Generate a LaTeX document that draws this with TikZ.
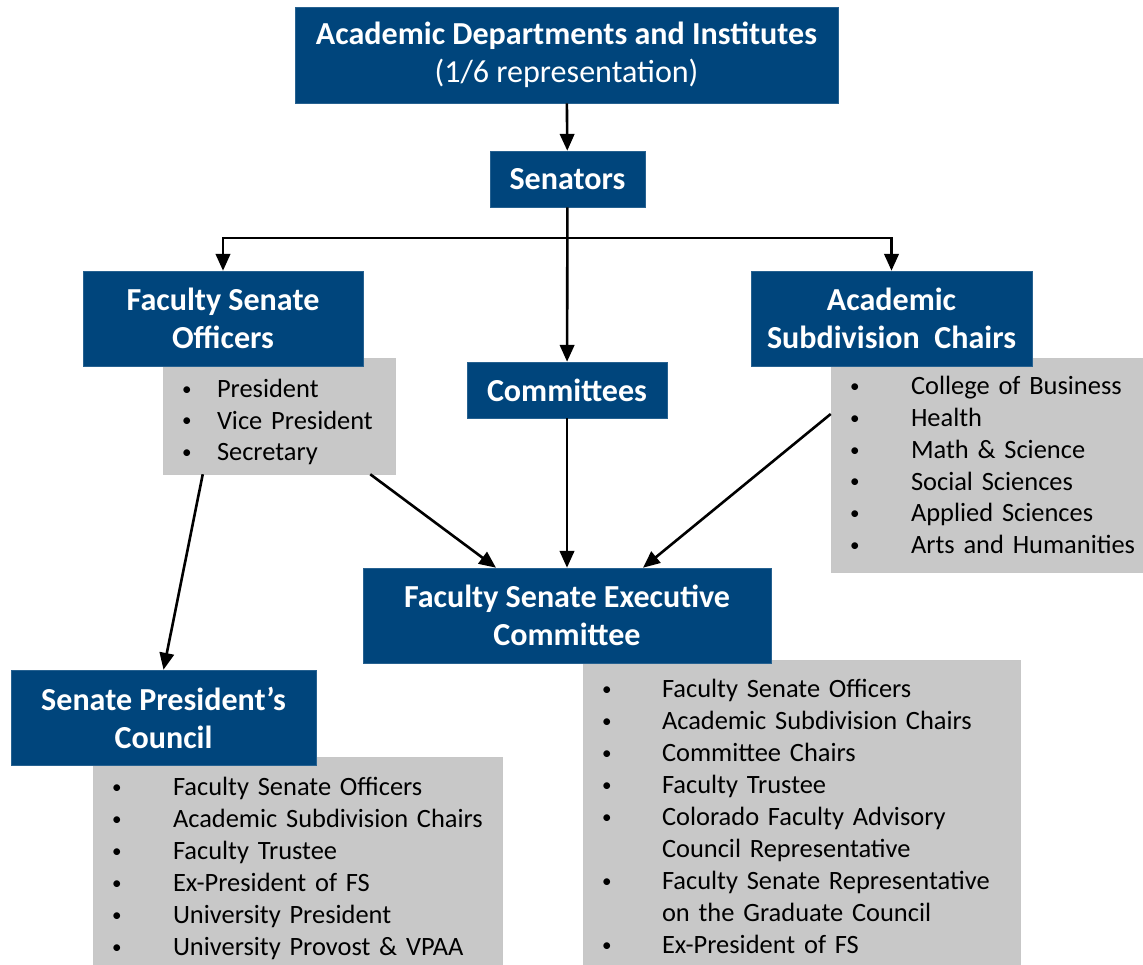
\documentclass[tikz,border=0pt]{standalone}
\usepackage{fontspec}
\setmainfont{Carlito}
\usetikzlibrary{arrows.meta}
\definecolor{fsblue}{RGB}{0,69,124}
\definecolor{fsgray}{RGB}{200,200,200}
\newlength\pu
\setlength\pu{0.025cm}
\newcommand\bul[2]{\makebox[#1\pu][l]{\hspace{19\pu}\raisebox{0.08em}{\scalebox{0.72}{\textbullet}}}#2}
\tikzset{
    bluebox/.style={fill=fsblue, draw=fsblue!85!white, text=white, align=center, inner sep=0pt,
        font=\fontsize{22.8}{27}\selectfont\bfseries},
    listbox/.style={fill=fsgray, draw=black!22, align=left, inner sep=0pt,
        font=\fontsize{18.8}{22.7}\selectfont},
    arr/.style={-{Triangle[length=0.42cm,width=0.36cm]}, line width=0.065cm},
}

\begin{document}
\begin{tikzpicture}[x=1\pu, y=-1\pu]
\useasboundingbox (0,0) rectangle (1143,965);

% grey lists (behind the blue boxes)
\node[listbox, text width=232\pu, minimum height=116\pu] (fsol) at (279,416)
    {\rule{0pt}{1.15em}\bul{54}{President}\\ \bul{54}{Vice President}\\ \bul{54}{Secretary}};
\node[listbox, text width=312\pu, minimum height=214\pu] (ascl) at (987,465)
    {\bul{80}{College of Business}\\ \bul{80}{Health}\\ \bul{80}{Math \& Science}\\
     \bul{80}{Social Sciences}\\ \bul{80}{Applied Sciences}\\ \bul{80}{Arts and Humanities}};
\node[listbox, text width=437\pu, minimum height=305\pu] (fsecl) at (801.5,812.5)
    {\rule{0pt}{1.0em}\bul{79}{Faculty Senate Officers}\\ \bul{79}{Academic Subdivision Chairs}\\
     \bul{79}{Committee Chairs}\\ \bul{79}{Faculty Trustee}\\
     \bul{79}{Colorado Faculty Advisory}\\ \hspace*{79\pu}Council Representative\\
     \bul{79}{Faculty Senate Representative}\\ \hspace*{79\pu}on the Graduate Council\\
     \bul{79}{Ex-President of FS}};
\node[listbox, text width=409\pu, minimum height=208\pu] (spcl) at (297.5,861)
    {\rule{0pt}{1.25em}\bul{80}{Faculty Senate Officers}\\ \bul{80}{Academic Subdivision Chairs}\\
     \bul{80}{Faculty Trustee}\\ \bul{80}{Ex-President of FS}\\
     \bul{80}{University President}\\ \bul{80}{University Provost \& VPAA}};

% blue boxes
\node[bluebox, minimum width=543\pu, minimum height=96\pu] (top) at (566.5,55)
    {Academic Departments and Institutes\\ {\mdseries (1/6 representation)}};
\node[bluebox, minimum width=155\pu, minimum height=56\pu] (sen) at (567.5,179) {Senators};
\node[bluebox, minimum width=280\pu, minimum height=95\pu] (fso) at (223,318.5)
    {Faculty Senate\\ Officers};
\node[bluebox, minimum width=200\pu, minimum height=56\pu] (com) at (567,390) {Committees};
\node[bluebox, minimum width=281\pu, minimum height=95\pu] (asc) at (891.5,318.5)
    {Academic\\ Subdivision\ \ Chairs};
\node[bluebox, minimum width=408\pu, minimum height=95\pu] (fsec) at (567,615.5)
    {Faculty Senate Executive\\ Committee};
\node[bluebox, minimum width=305\pu, minimum height=95\pu] (spc) at (163.5,717.5)
    {Senate President's\\ Council};

% arrows
\coordinate (split) at (567,238);
\draw[arr] (top) -- (sen);
\draw[arr] (sen) -- (com);
\draw[arr] (split) -| (fso.north);
\draw[arr] (split) -| (asc.north);
\draw[arr] ([xshift=1cm]fsol.south west) -- (spc.north);
\draw[arr] ([xshift=-0.625cm]fsol.south east) -- ([xshift=-1.775cm]fsec.north);
\draw[arr] (com) -- (fsec);
\draw[arr] ([yshift=1.275cm]ascl.west) -- ([xshift=1.9cm]fsec.north);
\end{tikzpicture}
\end{document}
